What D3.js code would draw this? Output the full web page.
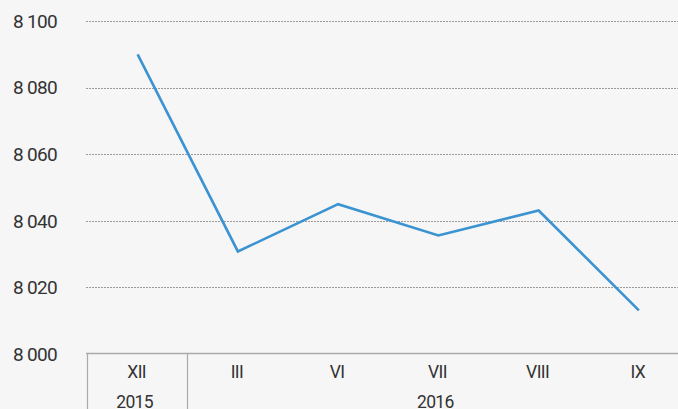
<!DOCTYPE html>
<html><head><meta charset="utf-8">
<script src="https://cdn.jsdelivr.net/npm/d3@7"></script>
<style>
html,body{margin:0;padding:0;background:#f6f6f6;}
svg{display:block;}
text{font-family:Roboto, "Noto Sans", sans-serif;fill:#333333;font-weight:400;}
</style></head><body>
<svg id="c" width="678" height="409"></svg>
<script>
const categories = ["XII","III","VI","VII","VIII","IX"];
const values = [8090.0, 8030.8, 8045.0, 8035.6, 8043.1, 8013.1];
const years = [{label:"2015", from:0, to:0},{label:"2016", from:1, to:5}];
const yTicks = [8000, 8020, 8040, 8060, 8080, 8100];

const svg = d3.select("#c");
const W = 678, H = 409;
const x = d3.scaleBand().domain(categories).range([87.5, 689]);
const y = d3.scaleLinear().domain([8000, 8100]).range([354, 21]);
const fmt = v => d3.format(",")(v).replace(/,/g, " ");

// gridlines
svg.append("g").selectAll("line").data(yTicks.filter(d => d > 8000)).join("line")
  .attr("x1", 86).attr("x2", W).attr("y1", d => Math.round(y(d)) + 0.5).attr("y2", d => Math.round(y(d)) + 0.5)
  .attr("stroke", "#9a9a9a").attr("stroke-width", 1).attr("stroke-dasharray", "2,1");

// y labels
svg.append("g").selectAll("text").data(yTicks).join("text")
  .attr("x", 13).attr("y", d => y(d)).attr("dy", "0.36em")
  .attr("font-size", 19).attr("letter-spacing", "-0.7px")
  .text(fmt);

// baseline axis
svg.append("line").attr("x1", 86).attr("x2", W).attr("y1", 353.5).attr("y2", 353.5)
  .attr("stroke", "#aaaaaa").attr("stroke-width", 1.5);

// vertical separators
const seps = [x.range()[0], x(categories[1])];
svg.append("g").selectAll("line").data(seps).join("line")
  .attr("x1", d => Math.round(d) - 0.5).attr("x2", d => Math.round(d) - 0.5)
  .attr("y1", 353).attr("y2", H)
  .attr("stroke", "#aaaaaa").attr("stroke-width", 1.2);

// category labels
svg.append("g").selectAll("text").data(categories).join("text")
  .attr("x", d => x(d) + x.bandwidth() / 2 - 1).attr("y", 378)
  .attr("text-anchor", "middle").attr("font-size", 17.5).attr("letter-spacing", "-0.6px")
  .text(d => d);

// year labels
svg.append("g").selectAll("text").data(years).join("text")
  .attr("x", d => (x(categories[d.from]) + x(categories[d.to]) + x.bandwidth()) / 2 - 3)
  .attr("y", 408).attr("text-anchor", "middle").attr("font-size", 17.5).attr("letter-spacing", "-0.6px")
  .text(d => d.label);

// line
const line = d3.line().x((d, i) => x(categories[i]) + x.bandwidth() / 2).y(d => y(d));
svg.append("path").datum(values).attr("d", line)
  .attr("fill", "none").attr("stroke", "#3b93d2").attr("stroke-width", 2.6)
  .attr("stroke-linejoin", "miter");
</script>
</body></html>
